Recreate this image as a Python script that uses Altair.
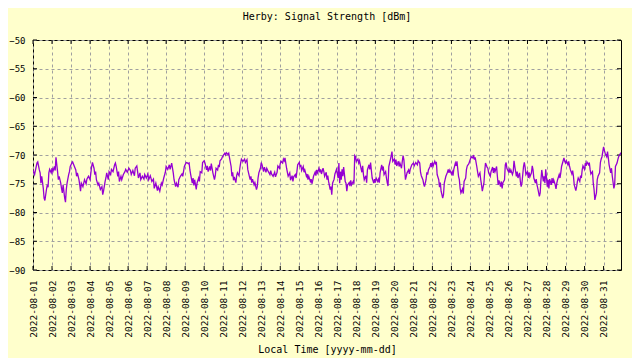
import altair as alt
import pandas as pd

# (hours since 2022-08-01 00:00, signal strength [dBm])
seg_aug01_08 = [
    (0, -72.6), (2, -73.4), (3, -72.7), (5, -71.4), (6, -71.2), (8, -72.6), (9, -73.1), (10, -74.9), (11, -73.7),
    (13, -75.8), (14, -77.5), (15, -77.9), (17, -76.0), (18, -75.2), (19, -75.6), (20, -73.1), (21, -72.5),
    (23, -73.1), (24, -72.3), (25, -72.9), (27, -72.0), (28, -72.7), (29, -70.4), (31, -72.9), (32, -74.3),
    (33, -73.7), (35, -74.9), (36, -75.8), (37, -76.6), (38, -75.2), (40, -77.5), (41, -78.2), (42, -76.0),
    (43, -74.9), (45, -73.4), (46, -72.9), (47, -72.0), (49, -71.4), (50, -71.2), (52, -71.9), (54, -72.6),
    (55, -73.7), (56, -73.1), (58, -74.3), (59, -75.2), (60, -76.3), (61, -74.9), (63, -75.5), (65, -74.3),
    (67, -75.0), (68, -74.2), (70, -73.7), (72, -74.3), (73, -73.1), (74, -72.0), (75, -71.3), (77, -72.3),
    (78, -73.4), (79, -72.9), (80, -74.3), (82, -75.2), (83, -74.9), (85, -76.0), (87, -75.5), (88, -76.9),
    (89, -76.3), (91, -74.6), (92, -74.0), (93, -73.1), (95, -74.3), (96, -72.9), (98, -73.4), (99, -72.5),
    (101, -72.9), (103, -71.7), (104, -71.4), (105, -72.0), (107, -73.7), (108, -72.9), (109, -74.6),
    (111, -73.7), (112, -74.3), (114, -73.4), (116, -72.9), (117, -72.5), (119, -73.0), (121, -72.3),
    (123, -72.7), (124, -73.4), (126, -72.7), (128, -73.6), (129, -72.3), (131, -71.9), (132, -72.9),
    (133, -74.0), (135, -73.1), (136, -74.3), (138, -73.7), (140, -74.2), (141, -73.4), (143, -74.0),
    (145, -73.3), (146, -74.3), (148, -73.6), (150, -74.6), (152, -74.2), (153, -75.8), (155, -74.9),
    (157, -76.2), (158, -75.5), (160, -76.3), (162, -74.9), (163, -75.2), (165, -74.0), (167, -73.0),
    (168, -72.0), (170, -72.5), (172, -71.7), (173, -72.5), (175, -71.4), (177, -73.1), (178, -74.3),
    (180, -75.5), (181, -74.9), (183, -75.6), (184, -74.3), (186, -73.7), (188, -73.3), (189, -73.7),
    (191, -72.0), (193, -71.4), (194, -71.3), (196, -71.5),
]
seg_aug09_16 = [
    (197, -71.4), (198, -72.6), (199, -73.4), (201, -74.9), (202, -74.0), (203, -75.3), (204, -74.3),
    (206, -76.0), (207, -74.9), (209, -74.0), (210, -74.6), (211, -72.9), (213, -73.1), (214, -71.3),
    (216, -71.0), (217, -71.4), (219, -72.6), (220, -71.9), (221, -72.9), (223, -72.0), (224, -72.7),
    (225, -71.5), (227, -73.1), (228, -73.7), (229, -74.3), (230, -73.6), (231, -72.3), (233, -72.6),
    (234, -71.7), (235, -72.1), (236, -71.0), (238, -70.7), (239, -70.3), (241, -69.9), (242, -69.7),
    (243, -70.0), (244, -69.6), (246, -69.9), (247, -69.7), (248, -70.5), (250, -72.0), (251, -73.7),
    (252, -73.0), (253, -74.4), (254, -73.8), (256, -74.8), (257, -73.6), (258, -73.1), (260, -73.6),
    (261, -72.3), (262, -71.4), (263, -70.7), (265, -71.1), (267, -70.7), (268, -71.3), (270, -70.8),
    (271, -72.5), (272, -73.1), (274, -74.3), (275, -73.7), (276, -74.8), (277, -74.2), (279, -75.2),
    (280, -74.8), (282, -76.0), (283, -75.5), (284, -74.0), (285, -73.1), (287, -72.3), (288, -71.3),
    (289, -71.7), (291, -72.9), (292, -72.1), (294, -73.0), (295, -72.3), (297, -72.9), (299, -73.4),
    (300, -72.7), (301, -73.3), (303, -73.7), (305, -73.0), (306, -73.8), (308, -73.0), (309, -71.9),
    (311, -72.3), (312, -71.5), (313, -71.1), (315, -71.4), (316, -70.7), (317, -71.0), (318, -70.5),
    (320, -72.3), (321, -73.0), (322, -73.7), (324, -73.1), (325, -74.4), (327, -73.6), (328, -74.6),
    (329, -73.8), (331, -73.4), (332, -74.0), (333, -72.9), (334, -71.7), (336, -71.3), (337, -72.1),
    (338, -71.7), (339, -72.7), (341, -72.0), (342, -73.0), (343, -72.6), (345, -73.7), (346, -73.3),
    (347, -74.3), (348, -73.7), (350, -74.6), (351, -74.2), (352, -75.0), (353, -74.4), (354, -73.7),
    (356, -73.0), (357, -73.6), (358, -72.6), (359, -73.1), (361, -72.3), (362, -73.0), (363, -72.5),
    (364, -73.3), (366, -72.3), (367, -72.9), (368, -73.7), (370, -73.0), (371, -74.3), (372, -73.6),
    (373, -74.6), (375, -76.0), (376, -75.5), (377, -76.9), (378, -74.9), (380, -74.2), (381, -73.3),
    (382, -72.9), (383, -72.5), (385, -74.0), (386, -71.4), (387, -74.9),
]
seg_aug17_24 = [
    (388, -72.9), (389, -74.3), (390, -72.5), (391, -73.7), (392, -72.1), (394, -74.6), (395, -74.9),
    (396, -76.3), (397, -75.2), (399, -74.8), (400, -75.4), (401, -74.4), (402, -75.2), (404, -74.6),
    (405, -75.0), (406, -70.1), (407, -70.3), (408, -71.1), (410, -70.7), (411, -71.4), (412, -71.0),
    (413, -71.7), (415, -73.0), (416, -71.9), (417, -73.4), (418, -74.3), (420, -73.6), (421, -74.8),
    (422, -72.6), (424, -71.7), (425, -72.5), (426, -71.3), (427, -72.7), (428, -74.0), (430, -74.9),
    (431, -74.2), (432, -74.8), (433, -74.0), (435, -74.6), (436, -74.2), (437, -74.8), (438, -73.1),
    (440, -71.7), (441, -72.7), (442, -72.0), (443, -73.4), (445, -72.9), (446, -74.0), (447, -74.8),
    (448, -75.4), (449, -72.0), (451, -70.8), (452, -70.1), (453, -69.4), (454, -71.1), (456, -70.7),
    (457, -71.7), (458, -70.8), (459, -71.9), (461, -71.1), (462, -72.0), (463, -71.4), (465, -72.3),
    (466, -71.1), (467, -70.1), (468, -70.8), (470, -74.3), (471, -73.7), (472, -73.1), (474, -72.6),
    (475, -73.3), (476, -72.5), (478, -71.7), (480, -71.4), (481, -71.9), (483, -71.3), (485, -71.7),
    (486, -71.0), (488, -71.4), (489, -73.0), (490, -73.6), (492, -74.3), (493, -75.0), (494, -75.5),
    (496, -74.3), (497, -73.0), (498, -73.4), (499, -72.6), (501, -72.0), (502, -71.4), (503, -72.1),
    (504, -71.3), (505, -71.9), (507, -71.1), (508, -71.5), (509, -71.2), (510, -73.4), (512, -74.3),
    (513, -75.6), (514, -74.8), (515, -76.3), (517, -77.5), (518, -76.9), (519, -74.9), (520, -74.3),
    (521, -73.7), (523, -73.0), (524, -72.5), (525, -73.1), (526, -72.6), (528, -73.3), (529, -72.9),
    (530, -73.6), (531, -72.5), (533, -71.4), (534, -71.9), (535, -71.1), (537, -73.7), (538, -74.3),
    (539, -75.8), (540, -76.6), (542, -75.9), (543, -76.7), (544, -74.6), (546, -74.0), (547, -72.5),
    (548, -71.9), (550, -71.5), (551, -71.1), (552, -70.7), (553, -70.3), (555, -70.5), (556, -70.0),
    (557, -70.8), (558, -70.4), (560, -72.0), (561, -72.9), (562, -73.7), (564, -73.1), (565, -74.3),
    (566, -75.2), (567, -76.3), (569, -74.9), (570, -72.9), (571, -71.4), (573, -72.1), (574, -72.3),
    (575, -73.1), (577, -73.7),
]
seg_aug25_31 = [
    (578, -72.9), (580, -72.1), (581, -73.1), (582, -72.3), (583, -72.9), (585, -72.0), (586, -73.7),
    (587, -75.2), (588, -74.4), (590, -75.5), (591, -74.6), (592, -75.8), (593, -74.8), (595, -74.3),
    (596, -71.7), (597, -71.3), (598, -72.3), (600, -72.9), (601, -72.5), (602, -73.1), (603, -72.6),
    (605, -73.4), (606, -72.9), (607, -71.0), (608, -72.0), (610, -73.7), (611, -72.9), (612, -74.0),
    (614, -73.1), (615, -74.6), (616, -75.5), (617, -74.9), (619, -72.0), (620, -71.3), (621, -72.1),
    (622, -73.4), (624, -72.9), (625, -74.0), (626, -73.0), (627, -73.8), (629, -73.1), (630, -71.9),
    (631, -72.6), (632, -74.0), (634, -74.9), (635, -74.2), (636, -75.2), (637, -75.8), (639, -77.2),
    (640, -76.6), (641, -74.3), (642, -72.6), (644, -74.6), (645, -73.7), (646, -74.9), (647, -72.5),
    (649, -75.5), (650, -74.3), (651, -75.8), (652, -74.2), (654, -75.2), (655, -74.0), (656, -74.9),
    (657, -74.3), (659, -75.2), (660, -75.9), (661, -74.9), (662, -74.3), (664, -73.4), (665, -74.0),
    (666, -73.1), (667, -72.0), (669, -71.0), (670, -70.5), (671, -71.1), (672, -71.4), (673, -71.0),
    (675, -71.7), (676, -71.1), (677, -71.9), (678, -72.5), (680, -73.3), (681, -72.7), (682, -73.7),
    (683, -75.2), (685, -76.2), (686, -75.5), (687, -74.6), (688, -74.0), (690, -74.6), (691, -73.6),
    (692, -74.0), (693, -72.6), (694, -71.9), (696, -72.5), (697, -71.4), (698, -71.9), (699, -71.2),
    (701, -71.7), (702, -71.3), (703, -72.5), (704, -73.3), (706, -72.9), (707, -74.9), (708, -76.0),
    (709, -77.8), (711, -76.6), (712, -74.3), (713, -73.7), (715, -73.1), (716, -71.3), (717, -70.7),
    (718, -70.3), (720, -68.6), (721, -69.2), (722, -69.7), (724, -70.3), (725, -69.4), (726, -70.5),
    (727, -71.7), (729, -73.1), (730, -72.3), (731, -73.7), (733, -75.8), (734, -75.2), (735, -72.0),
    (737, -71.4), (738, -70.8), (739, -70.3), (741, -69.8), (742, -69.6),
]

y_ticks = [-90, -85, -80, -75, -70, -65, -60, -55, -50]
day_numbers = list(range(1, 32))

W, H = 588, 230
start = pd.Timestamp("2022-08-01 00:00")
pairs = seg_aug01_08 + seg_aug09_16 + seg_aug17_24 + seg_aug25_31
df = pd.DataFrame({"t": [start + pd.Timedelta(hours=h) for h, _ in pairs],
                   "v": [v for _, v in pairs]})
xt_df = pd.DataFrame({"t": [pd.Timestamp(2022, 8, d) for d in day_numbers]})
yt_df = pd.DataFrame({"v": y_ticks})

font = "DejaVu Sans Mono"
x_scale = alt.Scale(domain=[alt.DateTime(year=2022, month=8, date=1, hours=0),
                            alt.DateTime(year=2022, month=8, date=31, hours=22)], nice=False)
y_scale = alt.Scale(domain=[-90, -50], nice=False, zero=False)

x_axis = alt.Axis(values=[alt.DateTime(year=2022, month=8, date=d) for d in day_numbers],
                  format="%Y-%m-%d", labelAngle=270, labelAlign="right",
                  labelBaseline="middle", labelPadding=10, ticks=False, domain=False,
                  labelFontSize=9.5,
                  title="Local Time [yyyy-mm-dd]", titlePadding=7,
                  labelOverlap=False, labelFlush=False)
y_axis = alt.Axis(values=y_ticks, ticks=False, domain=False, labelPadding=8,
                  labelFontSize=9, title=None)

line = alt.Chart(df).mark_line(color="#9400d3", strokeWidth=1.3, clip=True).encode(
    x=alt.X("t:T", scale=x_scale, axis=x_axis),
    y=alt.Y("v:Q", scale=y_scale, axis=y_axis),
)

xt_bottom = alt.Chart(xt_df).mark_rule(color="black", strokeWidth=1).encode(
    x=alt.X("t:T", scale=x_scale, axis=x_axis), y=alt.value(H - 4), y2=alt.value(H))
xt_top = alt.Chart(xt_df).mark_rule(color="black", strokeWidth=1).encode(
    x=alt.X("t:T", scale=x_scale, axis=x_axis), y=alt.value(0), y2=alt.value(4))
yt_left = alt.Chart(yt_df).mark_rule(color="black", strokeWidth=1).encode(
    y=alt.Y("v:Q", scale=y_scale, axis=y_axis), x=alt.value(0), x2=alt.value(4))
yt_right = alt.Chart(yt_df).mark_rule(color="black", strokeWidth=1).encode(
    y=alt.Y("v:Q", scale=y_scale, axis=y_axis), x=alt.value(W - 4), x2=alt.value(W))

chart = alt.layer(xt_bottom, xt_top, yt_left, yt_right, line).properties(
    width=W, height=H,
    title=alt.TitleParams("Herby: Signal Strength [dBm]", font=font, fontSize=10,
                          fontWeight="normal", color="black", offset=14, anchor="middle"),
    background="#ffffcc",
    autosize=alt.AutoSizeParams(type="none"),
    padding={"left": 25, "top": 32, "right": 11, "bottom": 88},
).configure_view(
    stroke="black", strokeWidth=1, fill="#ffffcc"
).configure_axis(
    labelFont=font, labelFontSize=10, labelColor="black",
    titleFont=font, titleFontSize=10, titleFontWeight="normal", titleColor="black",
    grid=True, gridColor="#a0a0a0", gridDash=[3, 3], gridWidth=1, gridOpacity=1,
)

chart.save("out.html", embed_options={"renderer": "svg", "actions": False})
